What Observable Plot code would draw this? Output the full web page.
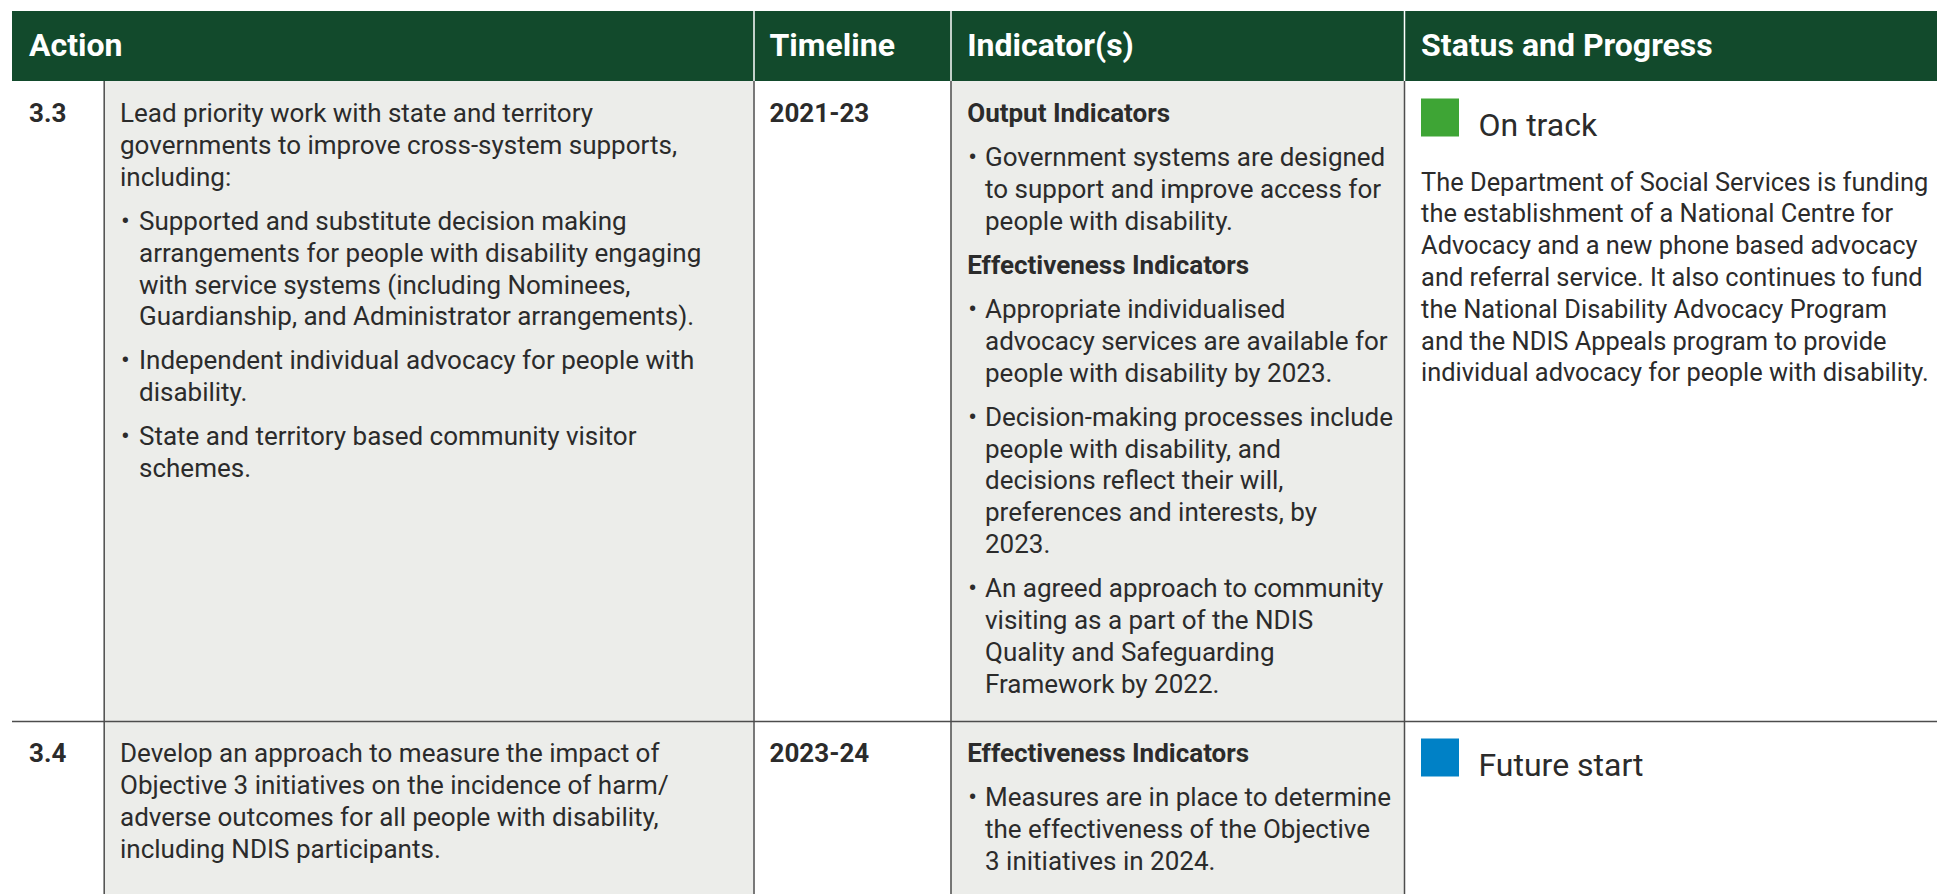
<!DOCTYPE html>
<html><head><meta charset="utf-8">
<script src="https://cdn.jsdelivr.net/npm/d3@7"></script>
<script src="https://cdn.jsdelivr.net/npm/@observablehq/plot@0.6"></script>
<style>html,body{margin:0;padding:0;background:#fff;overflow:hidden} svg{display:block}</style>
</head><body><div id="chart"></div>
<script>
// ---------- data ----------
const headers = ["Action", "Timeline", "Indicator(s)", "Status and Progress"];
const actionIds = ["3.3", "3.4"];
const timelines = ["2021-23", "2023-24"];
const actionBlocks = [
  [
    {kind: "p", lines: ["Lead priority work with state and territory", "governments to improve cross-system supports,", "including:"]},
    {kind: "bullet", lines: ["Supported and substitute decision making", "arrangements for people with disability engaging", "with service systems (including Nominees,", "Guardianship, and Administrator arrangements)."]},
    {kind: "bullet", lines: ["Independent individual advocacy for people with", "disability."]},
    {kind: "bullet", lines: ["State and territory based community visitor", "schemes."]}
  ],
  [
    {kind: "p", lines: ["Develop an approach to measure the impact of", "Objective 3 initiatives on the incidence of harm/", "adverse outcomes for all people with disability,", "including NDIS participants."]}
  ]
];
const indicatorBlocks = [
  [
    {kind: "h", lines: ["Output Indicators"]},
    {kind: "bullet", lines: ["Government systems are designed", "to support and improve access for", "people with disability."]},
    {kind: "h", lines: ["Effectiveness Indicators"]},
    {kind: "bullet", lines: ["Appropriate individualised", "advocacy services are available for", "people with disability by 2023."]},
    {kind: "bullet", lines: ["Decision-making processes include", "people with disability, and", "decisions reflect their will,", "preferences and interests, by", "2023."]},
    {kind: "bullet", lines: ["An agreed approach to community", "visiting as a part of the NDIS", "Quality and Safeguarding", "Framework by 2022."]}
  ],
  [
    {kind: "h", lines: ["Effectiveness Indicators"]},
    {kind: "bullet", lines: ["Measures are in place to determine", "the effectiveness of the Objective", "3 initiatives in 2024."]}
  ]
];
const statusLabels = ["On track", "Future start"];
const statusNotes = [
  ["The Department of Social Services is funding", "the establishment of a National Centre for", "Advocacy and a new phone based advocacy", "and referral service. It also continues to fund", "the National Disability Advocacy Program", "and the NDIS Appeals program to provide", "individual advocacy for people with disability."],
  []
];

// ---------- styles & layout ----------
const statusColor = {"On track": "#3ea535", "Future start": "#0081c6"};
const GREEN = "#124a2c", GREY = "#ecedea", LINE = "#4d4d4d", INK = "#2b2b2b";
const FONT = "Roboto, 'Open Sans', sans-serif";
const W = 1937, H = 894;
const colX = [12, 103.7, 753.5, 950.5, 1404, W];
const headTop = 11, headBot = 81;
const rowTops = [81, 721], rowBots = [721, H + 2];
const firstBase = 40.7, lineH = 31.8, gap = 12.3;
const BODY = 26;

const textPad = [28.5, 119.5, 769, 966.7, 1420.6];
const bulletTextX = {1: 138.5, 3: 984.5};

function layout(blocks, top, col) {
  const out = [];
  let y = top + firstBase;
  blocks.forEach((b, bi) => {
    if (bi > 0) y += gap;
    b.lines.forEach((t, li) => {
      if (b.kind === "bullet") {
        if (li === 0) out.push({x: textPad[col] + 1, y, text: "•", bold: false});
        out.push({x: bulletTextX[col], y, text: t, bold: false});
      } else {
        out.push({x: textPad[col], y, text: t, bold: b.kind === "h"});
      }
      y += lineH;
    });
  });
  return out;
}

const cells = [{x1: colX[0], x2: W, y1: headTop, y2: headBot, fill: GREEN}];
const bodyFills = ["#ffffff", GREY, "#ffffff", GREY, "#ffffff"];
rowTops.forEach((t, r) => {
  for (let c = 0; c < 5; c++) cells.push({x1: colX[c], x2: colX[c + 1], y1: t, y2: rowBots[r], fill: bodyFills[c]});
});

const headerText = headers.map((h, i) => ({x: textPad[[0, 2, 3, 4][i]], y: 55, text: h}));
const boldCells = [];
actionIds.forEach((id, r) => boldCells.push({x: textPad[0], y: rowTops[r] + firstBase, text: id}));
timelines.forEach((t, r) => boldCells.push({x: textPad[2], y: rowTops[r] + firstBase, text: t}));

let bodyLines = [];
actionBlocks.forEach((b, r) => bodyLines = bodyLines.concat(layout(b, rowTops[r], 1)));
indicatorBlocks.forEach((b, r) => bodyLines = bodyLines.concat(layout(b, rowTops[r], 3)));
const noteLines = [];
statusNotes.forEach((lines, r) => lines.forEach((t, i) => noteLines.push({x: textPad[4], y: rowTops[r] + 109 + i * lineH, text: t})));

const statusSquares = statusLabels.map((s, r) => ({x1: 1421, x2: 1459, y1: rowTops[r] + 17.5, y2: rowTops[r] + 55.5, fill: statusColor[s]}));
const statusText = statusLabels.map((s, r) => ({x: 1478, y: rowTops[r] + 54.5, text: s}));

const vRules = [];
colX.slice(1, 5).forEach(x => vRules.push({x, y1: headBot, y2: H, stroke: LINE}));
colX.slice(2, 5).forEach(x => vRules.push({x, y1: headTop, y2: headBot, stroke: "#ffffff"}));

const txt = (data, o) => Plot.text(data, {x: "x", y: "y", text: "text", textAnchor: "start", lineAnchor: "bottom", fontFamily: FONT, ...o});

const chart = Plot.plot({
  width: W, height: H, margin: 0,
  x: {type: "identity", axis: null},
  y: {type: "identity", axis: null},
  color: {type: "identity"},
  style: {background: "#fff"},
  marks: [
    Plot.rect(cells, {x1: "x1", x2: "x2", y1: "y1", y2: "y2", fill: "fill"}),
    Plot.ruleX(vRules, {x: "x", y1: "y1", y2: "y2", stroke: "stroke", strokeWidth: 1.5}),
    Plot.ruleY(rowTops.slice(1), {y: d => d, x1: colX[0], x2: W, stroke: LINE, strokeWidth: 1.6}),
    Plot.rect(statusSquares, {x1: "x1", x2: "x2", y1: "y1", y2: "y2", fill: "fill"}),
    txt(headerText, {fill: "#fff", fontSize: 32, fontWeight: 700, ariaLabel: "header-text"}),
    txt(boldCells, {fill: INK, fontSize: BODY, fontWeight: 700}),
    txt(bodyLines.filter(d => d.bold), {fill: INK, fontSize: BODY, fontWeight: 700}),
    txt(bodyLines.filter(d => !d.bold), {fill: INK, fontSize: BODY, fontWeight: 400}),
    txt(noteLines, {fill: INK, fontSize: 25.4, fontWeight: 400}),
    txt(statusText, {fill: INK, fontSize: 32, fontWeight: 400})
  ]
});
d3.select(chart).selectAll('g[aria-label="header-text"]').attr("letter-spacing", "0.5px");
document.getElementById("chart").appendChild(chart);
</script>
</body></html>
